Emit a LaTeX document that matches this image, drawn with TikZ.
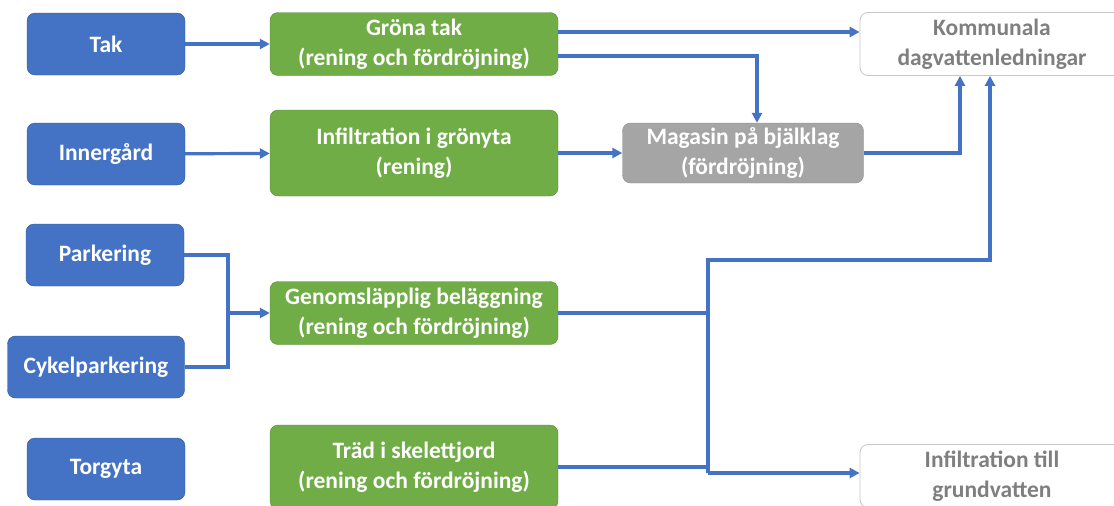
\documentclass[tikz,border=0pt]{standalone}
\usepackage{fontspec}
\setmainfont{Carlito}
\usetikzlibrary{arrows.meta,positioning}
\definecolor{srcblue}{RGB}{68,114,196}
\definecolor{treatgreen}{RGB}{112,173,71}
\definecolor{storegrey}{RGB}{165,165,165}
\definecolor{outgrey}{RGB}{127,127,127}
\tikzset{
  box/.style={rounded corners=8pt,inner sep=0pt,align=center,font=\fontsize{23.5}{30}\selectfont\bfseries},
  source/.style={box,draw=srcblue!75!black,fill=srcblue,text=white,minimum width=158pt,minimum height=62pt},
  treat/.style={box,draw=treatgreen!80!black,fill=treatgreen,text=white,minimum width=288pt,minimum height=63pt},
  store/.style={box,draw=storegrey!85!black,fill=storegrey,text=white,minimum width=241pt,minimum height=60pt},
  outlet/.style={box,draw=gray!45,fill=white,text=outgrey,line width=.8pt,minimum width=264pt,minimum height=63pt},
  pipe/.style={draw=srcblue,line width=3.2pt},
  flow/.style={pipe,-{Triangle[length=10pt,width=10pt]}}
}
\begin{document}
\begin{tikzpicture}[x=1pt,y=-1pt]
\useasboundingbox (0,0) rectangle (1114,506);
% sources
\node[source] (tak) at (106,44) {Tak};
\node[source] (inner) at (106,154) {Innergård};
\node[source] (park) at (105,255) {Parkering};
\node[source,minimum width=177pt] (cykel) at (96,367) {Cykelparkering};
\node[source] (torg) at (106,469) {Torgyta};
% treatment
\node[treat] (gronatak) at (414,44) {Gröna tak\\(rening och fördröjning)};
\node[treat,minimum height=86pt] (infil) at (414,153) {Infiltration i grönyta\\(rening)};
\node[treat] (genom) at (414,313) {Genomsläpplig beläggning\\(rening och fördröjning)};
\node[treat,minimum height=84pt] (trad) at (414,467) {Träd i skelettjord\\(rening och fördröjning)};
\node[store] (magasin) at (743,153) {Magasin på bjälklag\\(fördröjning)};
% outlets
\node[outlet] (kommunala) at (992,44) {Kommunala\\dagvattenledningar};
\node[outlet] (grund) at (992,476) {Infiltration till\\grundvatten};
% connectors
\coordinate (merge) at (228,313);
\coordinate (split) at (708,260);
\coordinate (low) at (708,473);
\draw[flow] (tak) -- (gronatak);
\draw[flow] (inner) -- (infil);
\draw[flow] ([yshift=12pt]gronatak.east) -- ([yshift=12pt]kommunala.west);
\draw[flow] ([yshift=-12pt]gronatak.east) -| ([xshift=14pt]magasin.north);
\draw[flow] (infil) -- (magasin);
\draw[flow] (magasin.east) -| ([xshift=-32pt]kommunala.south);
\draw[pipe] (park.east) -| (merge);
\draw[pipe] (cykel.east) -| (merge);
\draw[flow] (merge) -- (genom.west);
\draw[pipe] (split) -- (low);
\draw[flow] (genom.east) -| (split) -| ([xshift=-2pt]kommunala.south);
\draw[pipe] (trad.east) -| (low);
\draw[flow] (low) -- (grund.west |- low);
\end{tikzpicture}
\end{document}
